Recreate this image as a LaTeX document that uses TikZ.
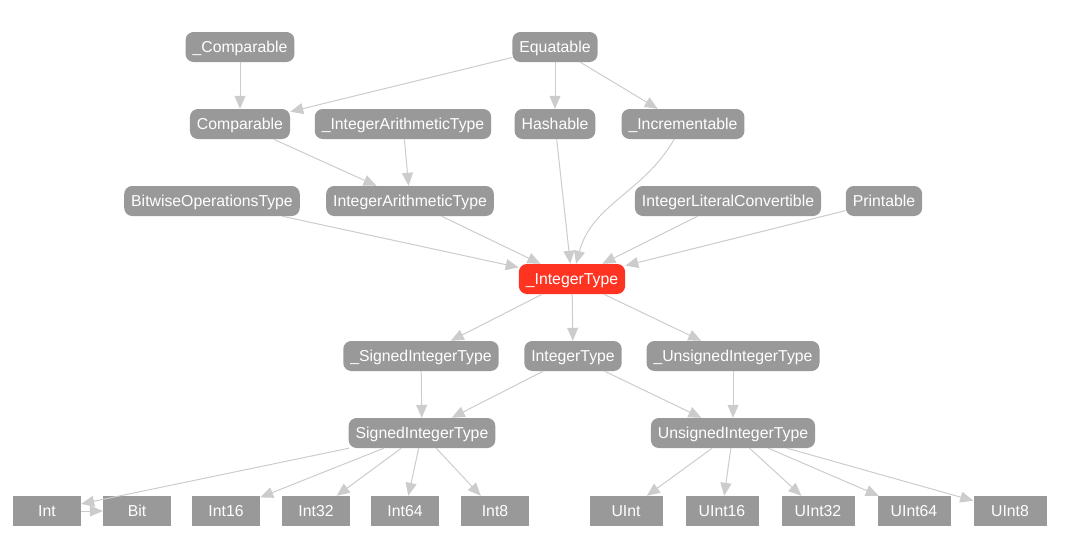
\documentclass[tikz,border=0pt]{standalone}
\usepackage{fontspec}
\setmainfont{Liberation Sans}
\usetikzlibrary{arrows.meta}
\definecolor{boxgray}{HTML}{999999}
\definecolor{linegray}{HTML}{CCCCCC}
\definecolor{hotred}{HTML}{FF3322}
\begin{document}
\begin{tikzpicture}[x=1pt,y=-1pt,
	proto/.style={fill=boxgray, text=white, rounded corners=8pt, minimum height=30pt,
		inner xsep=7pt, text height=12pt, text depth=0.8pt,
		font=\fontsize{15.8}{18}\selectfont},
	leaf/.style={proto, rounded corners=0pt},
	edge/.style={draw=linegray, line width=1pt,
		-{Triangle[length=13pt,width=11pt,fill=linegray]}}]
	\useasboundingbox (0,0) rectangle (1069,541);
	
	% protocols
	\node[proto] (comp_) at (240,47) {\_Comparable};
	\node[proto] (equat) at (555,47) {Equatable};
	\node[proto] (comp) at (240,124) {Comparable};
	\node[proto] (iat_) at (403,124) {\_IntegerArithmeticType};
	\node[proto] (hash) at (555,124) {Hashable};
	\node[proto] (incr_) at (683,124) {\_Incrementable};
	\node[proto] (bitw) at (212,201) {BitwiseOperationsType};
	\node[proto] (iat) at (410,201) {IntegerArithmeticType};
	\node[proto] (ilc) at (728,201) {IntegerLiteralConvertible};
	\node[proto] (print) at (884,201) {Printable};
	\node[proto, fill=hotred] (it_) at (572,279) {\_IntegerType};
	\node[proto] (sit_) at (421,356) {\_SignedIntegerType};
	\node[proto] (itype) at (573,356) {IntegerType};
	\node[proto] (uit_) at (733,356) {\_UnsignedIntegerType};
	\node[proto] (sit) at (422,433) {SignedIntegerType};
	\node[proto] (uit) at (733,433) {UnsignedIntegerType};
	
	% concrete types
	\foreach \name/\txt/\x in {int/Int/47, bit/Bit/137, i16/Int16/226,
		i32/Int32/316, i64/Int64/405, i8/Int8/495}
	\node[leaf, minimum width=68pt] (\name) at (\x,511) {\txt};
	\foreach \name/\txt/\x in {u/UInt/626, u16/UInt16/722, u32/UInt32/818,
		u64/UInt64/914, u8/UInt8/1010}
	\node[leaf, minimum width=73pt] (\name) at (\x,511) {\txt};
	
	% edges
	\draw[edge] (comp_) -- (comp);
	\draw[edge] (equat) -- (comp);
	\draw[edge] (equat) -- (hash);
	\draw[edge] (equat) -- (incr_);
	\draw[edge] (comp) -- (iat);
	\draw[edge] (iat_) -- (iat);
	\foreach \src in {bitw, iat, hash, ilc, print}
	\draw[edge] (\src) -- (it_);
	\draw[edge] (incr_) to[out=-120,in=75] (it_);
	\foreach \dst in {sit_, itype, uit_}
	\draw[edge] (it_) -- (\dst);
	\draw[edge] (sit_) -- (sit);
	\draw[edge] (itype) -- (sit);
	\draw[edge] (itype) -- (uit);
	\draw[edge] (uit_) -- (uit);
	\foreach \dst in {int, i16, i32, i64, i8}
	\draw[edge] (sit) -- (\dst);
	\draw[edge] (int) -- (bit);
	\foreach \dst in {u, u16, u32, u64, u8}
	\draw[edge] (uit) -- (\dst);
\end{tikzpicture}
\end{document}
